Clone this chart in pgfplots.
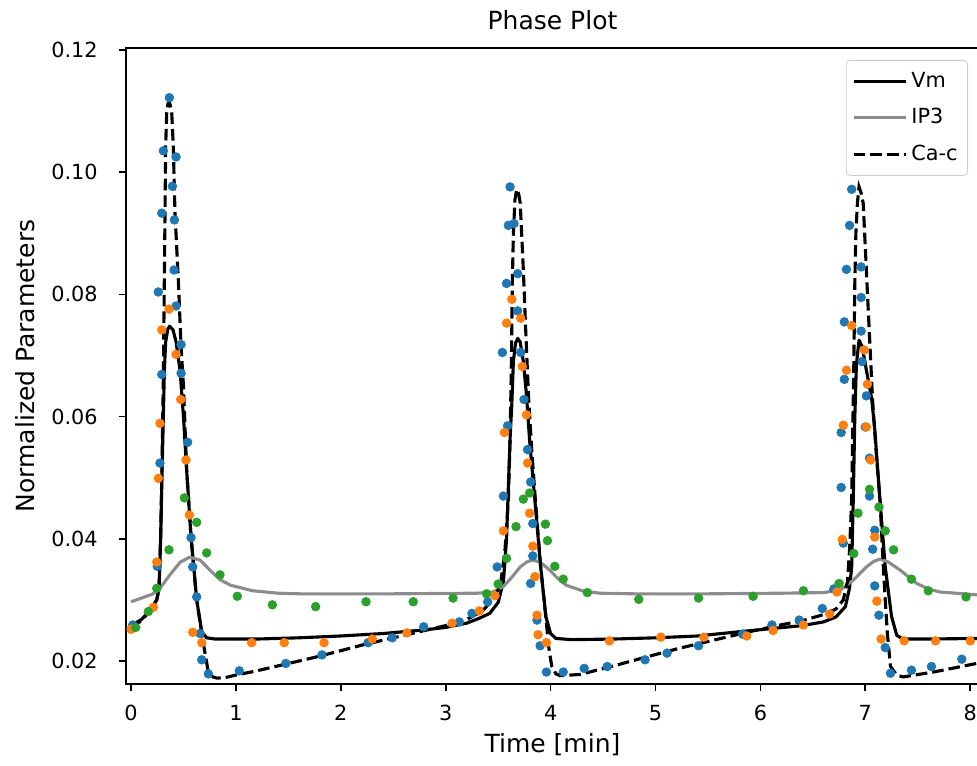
\documentclass[border=0pt]{standalone}
\usepackage{fontspec}
\setmainfont{DejaVu Sans}
\usepackage{pgfplots}
\pgfplotsset{compat=1.18}
\definecolor{tabblue}{HTML}{1F77B4}
\definecolor{taborange}{HTML}{FF7F0E}
\definecolor{tabgreen}{HTML}{2CA02C}
\definecolor{ipgray}{HTML}{8C8C8C}

\begin{document}
\begin{tikzpicture}
% page = reference frame (1px = 0.5pt), axis box lower left at (0,0)
\useasboundingbox (-63pt,-40.5pt) rectangle (425.5pt,342pt);
\begin{axis}[
  at={(0,0)}, anchor=south west,
  scale only axis, width=426.5pt, height=318pt,
  xmin=-0.048, xmax=8.084, ymin=0.01624, ymax=0.12033,
  axis line style={line width=0.83pt},
  tick pos=left, tick align=outside,
  major tick length=3.65pt,
  every tick/.style={black, line width=0.83pt},
  xtick={0,1,...,8},
  ytick={0.02,0.04,0.06,0.08,0.10,0.12},
  scaled y ticks=false,
  yticklabel style={/pgf/number format/fixed, /pgf/number format/precision=2,
    /pgf/number format/fixed zerofill, xshift=-7pt},
  xticklabel style={yshift=-3.5pt},
  /pgf/number format/assume math mode=true,
  ticklabel style={font=\fontsize{10.4}{12}\selectfont},
  xlabel={Time [min]},
  every axis x label/.style={at={(axis description cs:0.5,-0.077)}, anchor=north,
    inner sep=0pt, font=\fontsize{12.5}{15}\selectfont},
  ylabel={Normalized Parameters},
  every axis y label/.style={at={(axis description cs:-0.1301,0.5)}, rotate=90,
    anchor=north, inner sep=0pt, font=\fontsize{12.5}{15}\selectfont},
  title={Phase Plot},
  every axis title/.style={at={(axis description cs:0.5,1)}, anchor=south,
    yshift=8.8pt, inner sep=0pt, font=\fontsize{12.5}{15}\selectfont},
  legend style={at={(1,1)}, anchor=north east, xshift=-5.5pt, yshift=-6pt,
    draw=black!20, rounded corners=2pt, fill=white,
    font=\fontsize{10.4}{12.5}\selectfont,
    inner xsep=3pt, inner ysep=4pt, row sep=5pt,
    /tikz/every even column/.append style={column sep=5pt}},
  legend cell align=left,
  legend image code/.code={\draw[#1] (0pt,0pt) -- (26pt,0pt);},
]
\addplot[black, line width=1.56pt, line join=round] coordinates {
(0,0.0258)(0.1,0.0268)(0.18,0.0283)(0.245,0.0300)(0.267,0.0318)(0.283,0.0403)
(0.296,0.0513)(0.308,0.0600)(0.318,0.0676)(0.33,0.0722)(0.35,0.0743)(0.368,0.0748)
(0.40,0.0742)(0.43,0.0722)(0.467,0.0676)(0.50,0.0600)(0.53,0.0513)(0.572,0.0403)
(0.626,0.0300)(0.674,0.0248)(0.72,0.0238)(0.8,0.0236)(1.2,0.0236)(1.6,0.0238)
(2.0,0.0241)(2.4,0.0245)(2.8,0.0251)(3.0,0.0255)(3.2,0.0262)(3.32,0.0270)
(3.42,0.0278)(3.50,0.0296)(3.55,0.0330)(3.58,0.0400)(3.60,0.0500)(3.615,0.0570)
(3.63,0.0620)(3.645,0.0690)(3.665,0.0720)(3.686,0.0728)(3.71,0.0722)(3.74,0.0690)
(3.77,0.0635)(3.80,0.0560)(3.85,0.0463)(3.905,0.0354)(3.955,0.0272)(4.00,0.0245)
(4.05,0.0237)(4.2,0.0235)(4.6,0.0236)(5.0,0.0238)(5.4,0.0241)(5.8,0.0248)
(6.1,0.0253)(6.4,0.0258)(6.6,0.0264)(6.72,0.0272)(6.81,0.0289)(6.85,0.0320)
(6.87,0.0354)(6.885,0.0463)(6.90,0.0600)(6.915,0.0685)(6.94,0.0725)(6.97,0.0715)
(7.01,0.0676)(7.06,0.0630)(7.09,0.0580)(7.115,0.0520)(7.14,0.0463)(7.19,0.0354)
(7.25,0.0273)(7.30,0.0242)(7.36,0.0236)(7.6,0.0236)(8.09,0.0237)
};
\addlegendentry{Vm}
\addplot[ipgray, line width=1.56pt, line join=round] coordinates {
(0,0.0297)(0.1,0.0303)(0.21,0.0310)(0.28,0.0320)(0.37,0.0341)(0.47,0.0362)
(0.56,0.0370)(0.66,0.0365)(0.75,0.0349)(0.85,0.0333)(0.95,0.0324)(1.16,0.0315)
(1.4,0.0311)(1.61,0.0310)(2.5,0.0310)(3.3,0.0311)(3.45,0.0313)(3.55,0.0322)
(3.63,0.0337)(3.71,0.0354)(3.78,0.0363)(3.835,0.0365)(3.9,0.0362)(3.99,0.0349)
(4.07,0.0335)(4.15,0.0324)(4.3,0.0315)(4.47,0.0311)(4.8,0.0310)(5.5,0.0310)
(6.2,0.0311)(6.6,0.0312)(6.76,0.0316)(6.89,0.0333)(7.01,0.0354)(7.08,0.0363)
(7.14,0.0367)(7.22,0.0362)(7.33,0.0349)(7.49,0.0327)(7.6,0.0318)(7.71,0.0313)
(8.09,0.0308)
};
\addlegendentry{IP3}
\addplot[black, line width=1.56pt, dash pattern=on 5.8pt off 2.5pt] coordinates {
(0,0.0255)(0.1,0.0266)(0.18,0.0282)(0.245,0.0300)(0.267,0.0320)(0.283,0.0410)
(0.296,0.0530)(0.308,0.0660)(0.316,0.0800)(0.324,0.0933)(0.33,0.1042)(0.34,0.1097)
(0.352,0.1112)(0.365,0.1115)(0.376,0.1108)(0.388,0.1097)(0.403,0.1042)(0.419,0.0933)
(0.451,0.0823)(0.477,0.0714)(0.50,0.0650)(0.53,0.0513)(0.572,0.0403)(0.626,0.0300)
(0.674,0.0246)(0.705,0.0213)(0.737,0.0182)(0.78,0.0174)(0.82,0.0172)(0.9,0.0173)
(1.0,0.0177)(1.2,0.0184)(1.4,0.0192)(1.6,0.0200)(1.8,0.0208)(2.0,0.0217)
(2.2,0.0226)(2.4,0.0234)(2.6,0.0242)(2.8,0.0250)(3.0,0.0258)(3.2,0.0268)
(3.35,0.0282)(3.42,0.0295)(3.52,0.0322)(3.565,0.0382)(3.597,0.0463)(3.615,0.0573)
(3.627,0.0700)(3.635,0.0820)(3.645,0.0900)(3.66,0.0955)(3.677,0.0972)(3.695,0.0965)
(3.71,0.0950)(3.74,0.0840)(3.765,0.0731)(3.79,0.0630)(3.82,0.0545)(3.855,0.0463)
(3.905,0.0354)(3.955,0.0272)(3.98,0.0225)(4.01,0.0192)(4.05,0.0179)(4.09,0.0176)
(4.28,0.0178)(4.6,0.0192)(4.92,0.0207)(5.23,0.0221)(5.55,0.0234)(5.87,0.0247)
(6.19,0.0259)(6.4,0.0266)(6.6,0.0276)(6.72,0.0285)(6.79,0.0300)(6.83,0.0330)
(6.85,0.0382)(6.87,0.0463)(6.88,0.0573)(6.89,0.0680)(6.90,0.0820)(6.91,0.0900)
(6.925,0.0950)(6.94,0.0976)(6.96,0.0966)(6.98,0.0949)(7.01,0.0840)(7.04,0.0731)
(7.07,0.0625)(7.10,0.0550)(7.14,0.0463)(7.17,0.0360)(7.19,0.0300)(7.21,0.0245)
(7.24,0.0191)(7.30,0.0177)(7.36,0.0174)(7.65,0.0182)(8.09,0.0197)
};
\addlegendentry{Ca-c}
% measured Ca-c
\addplot[tabblue, only marks, mark=*, mark size=2.15pt, forget plot] coordinates {
(0.016,0.0259)(0.25,0.0355)(0.260,0.0804)(0.276,0.0524)(0.293,0.0669)(0.293,0.0933)
(0.308,0.1035)(0.365,0.1122)(0.394,0.0977)(0.410,0.0840)(0.413,0.0922)(0.429,0.1025)
(0.429,0.0781)(0.477,0.0718)(0.477,0.0671)(0.540,0.0558)(0.572,0.0402)(0.588,0.0354)
(0.626,0.0305)(0.658,0.0245)(0.674,0.0202)(0.737,0.0179)(1.032,0.0184)(1.475,0.0196)
(1.82,0.0210)(2.26,0.0230)(2.49,0.0238)(2.79,0.0256)(3.13,0.0264)(3.25,0.0278)
(3.40,0.0297)(3.49,0.0354)(3.55,0.0470)(3.54,0.0705)(3.58,0.0818)(3.59,0.0585)
(3.597,0.0913)(3.613,0.0976)(3.651,0.0916)(3.686,0.0834)(3.686,0.0773)(3.715,0.0705)
(3.746,0.0628)(3.78,0.0546)(3.81,0.0493)(3.83,0.0425)(3.83,0.0372)(3.81,0.0327)
(3.87,0.0267)(3.90,0.0225)(3.96,0.0182)(4.12,0.0182)(4.32,0.0188)(4.54,0.0191)
(4.90,0.0202)(5.11,0.0213)(5.41,0.0225)(5.83,0.0244)(6.11,0.0259)(6.37,0.0267)
(6.59,0.0286)(6.70,0.0318)(6.77,0.0484)(6.77,0.0574)(6.79,0.0393)(6.80,0.0755)
(6.80,0.0661)(6.82,0.0841)(6.85,0.0913)(6.87,0.0972)(6.96,0.0845)(6.96,0.0795)
(6.96,0.0740)(6.97,0.0690)(7.00,0.0583)(7.01,0.0634)(7.04,0.0532)(7.04,0.0470)
(7.07,0.0383)(7.09,0.0414)(7.09,0.0323)(7.13,0.0275)(7.19,0.0222)(7.24,0.0180)
(7.44,0.0185)(7.63,0.0191)(7.92,0.0203)
};
% measured Vm
\addplot[taborange, only marks, mark=*, mark size=2.15pt, forget plot] coordinates {
(0.0,0.0252)(0.213,0.0288)(0.245,0.0362)(0.260,0.0499)(0.276,0.0589)(0.293,0.0742)
(0.362,0.0776)(0.429,0.0702)(0.474,0.0628)(0.524,0.0529)(0.556,0.0439)(0.588,0.0247)
(0.674,0.0230)(1.15,0.0230)(1.46,0.0230)(1.84,0.0230)(2.30,0.0236)(2.63,0.0246)
(3.06,0.0262)(3.32,0.0282)(3.47,0.0307)(3.55,0.0413)(3.56,0.0574)(3.58,0.0753)
(3.63,0.0792)(3.715,0.0761)(3.73,0.0682)(3.77,0.0603)(3.78,0.0524)(3.80,0.0442)
(3.83,0.0388)(3.85,0.0338)(3.87,0.0275)(3.88,0.0243)(3.96,0.0230)(4.56,0.0233)
(5.05,0.0239)(5.46,0.0239)(5.87,0.0241)(6.12,0.0250)(6.41,0.0259)(6.66,0.0277)
(6.73,0.0313)(6.78,0.0399)(6.79,0.0586)(6.82,0.0676)(6.87,0.0749)(6.99,0.0709)
(7.01,0.0583)(7.02,0.0653)(7.05,0.0529)(7.09,0.0403)(7.11,0.0298)(7.15,0.0236)
(7.37,0.0233)(7.67,0.0233)(8.00,0.0233)
};
% measured IP3
\addplot[tabgreen, only marks, mark=*, mark size=2.15pt, forget plot] coordinates {
(0.045,0.0255)(0.165,0.0281)(0.245,0.0319)(0.362,0.0382)(0.508,0.0467)(0.626,0.0427)
(0.721,0.0377)(0.848,0.0341)(1.013,0.0306)(1.347,0.0292)(1.76,0.0289)(2.24,0.0297)
(2.69,0.0297)(3.07,0.0303)(3.39,0.0310)(3.50,0.0326)(3.58,0.0368)(3.67,0.0420)
(3.74,0.0465)(3.80,0.0475)(3.95,0.0424)(3.97,0.0397)(4.04,0.0355)(4.12,0.0334)
(4.35,0.0312)(4.84,0.0301)(5.41,0.0303)(5.93,0.0306)(6.41,0.0315)(6.75,0.0327)
(6.89,0.0376)(6.93,0.0442)(7.04,0.0481)(7.13,0.0452)(7.19,0.0413)(7.27,0.0382)
(7.44,0.0334)(7.60,0.0315)(7.96,0.0305)
};
\end{axis}
\end{tikzpicture}
\end{document}
